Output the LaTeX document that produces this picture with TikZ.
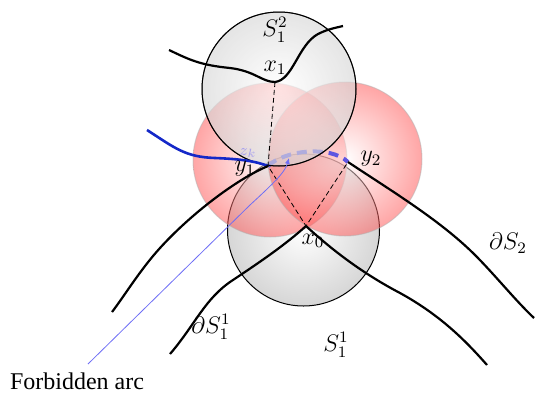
\documentclass[tikz,border=0pt]{standalone}
\usepackage{fontspec}
\setmainfont{Liberation Serif}
\usetikzlibrary{arrows.meta}
\definecolor{bcurve}{RGB}{20,40,200}
\definecolor{barc}{RGB}{95,85,225}
\definecolor{thinblue}{RGB}{110,110,245}
\begin{document}
\begin{tikzpicture}[x=0.5pt,y=-0.5pt,font=\fontsize{12}{14}\selectfont,
  graydisk/.style={inner color=white,outer color=gray!32,draw=black,line width=0.5pt},
  reddisk/.style={inner color=white,outer color=red!70,draw=gray!60,line width=0.5pt,opacity=0.5},
  bound/.style={line width=1.1pt,line join=round},
  aux/.style={line width=0.4pt,dash pattern=on 2.5pt off 1.5pt},
  lbl/.style={inner sep=1pt}]
\useasboundingbox (0,0) rectangle (536,397);
% key points
\coordinate (x1) at (275,82);
\coordinate (y1) at (268,166);
\coordinate (y2) at (348,162);
\coordinate (x0) at (306,226);
\coordinate (ctop) at (279,89);
\coordinate (cbot) at (303.5,230);
\coordinate (cred1) at (270,160);
\coordinate (cred2) at (345,159);
% bottom gray disk
\shade[graydisk] (cbot) circle [radius=76];
% red disks
\shade[reddisk] (cred1) circle [radius=77];
\shade[reddisk] (cred2) circle [radius=77];
% forbidden arc
\draw[barc,line width=2pt,dash pattern=on 5pt off 3pt] (y1) .. controls (285,150) and (330,145) .. (y2);
% top gray disk
\shade[graydisk,opacity=0.65] (ctop) circle [radius=77];
\draw[line width=0.5pt] (ctop) circle [radius=77];
% dashed auxiliary lines
\draw[aux] (x1) -- (y1) -- (x0) -- (y2);
% boundaries
\draw[bound] (169,50) .. controls (190,60) and (200,65) .. (230,68) .. controls (255,71) and (262,82) .. (x1) .. controls (293,80) and (298,45) .. (318,34) .. controls (328,29) and (335,28) .. (343,26);
\draw[bcurve,line width=1.3pt] (147,130) .. controls (175,148) and (185,157) .. (215,158) .. controls (240,159) and (255,161) .. (y1);
\draw[bound] (y1) .. controls (235,180) and (190,215) .. (160,248) .. controls (140,270) and (125,295) .. (112,312);
\draw[bound] (y2) .. controls (390,190) and (440,220) .. (475,255) .. controls (495,275) and (515,300) .. (534,318);
\draw[bound] (x0) .. controls (285,245) and (260,262) .. (233,280) .. controls (205,298) and (195,325) .. (170,354);
\draw[bound] (x0) .. controls (330,248) and (360,272) .. (400,293) .. controls (440,315) and (465,340) .. (487,365);
% forbidden arc pointer
\node[lbl] (fa) at (77,381) {Forbidden arc};
\coordinate (fastart) at (88,364);
\coordinate (fatip) at (289,158);
\draw[thinblue,line width=0.4pt,-{Latex[length=3pt,width=2.5pt]}] (fastart) -- (250,205) .. controls (275,182) and (285,172) .. (fatip);
% labels
\node[lbl] (lS12) at (275,30) {$S_1^2$};
\node[lbl] (lx1) at (275,68) {$x_1$};
\node[lbl] (ly1) at (245,169) {$y_1$};
\node[lbl,text=barc!55,font=\fontsize{8}{9}\selectfont] (lzk) at (248,153) {$z_k$};
\node[lbl] (ly2) at (371,159) {$y_2$};
\node[lbl] (lx0) at (313,241) {$x_0$};
\node[lbl] (lS2) at (508,243) {$\partial S_2$};
\node[lbl] (lS11b) at (211,327) {$\partial S_1^1$};
\node[lbl] (lS11) at (336,345) {$S_1^1$};
\end{tikzpicture}
\end{document}
